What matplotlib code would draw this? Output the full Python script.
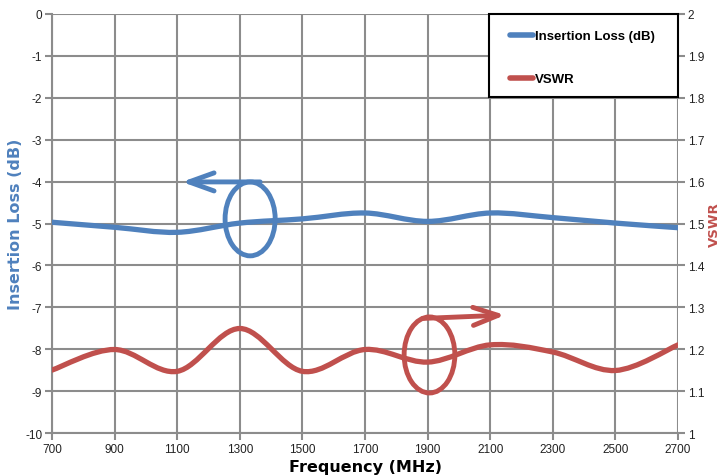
import matplotlib
matplotlib.use("Agg")
import matplotlib.pyplot as plt
from matplotlib.path import Path
from matplotlib.patches import PathPatch, Ellipse, Rectangle
from matplotlib.lines import Line2D

# Data
freq_mhz = [700, 900, 1100, 1300, 1500, 1700, 1900, 2100, 2300, 2500, 2700]
insertion_loss_db = [-4.97, -5.09, -5.21, -4.99, -4.89, -4.75, -4.95, -4.75, -4.86, -4.99, -5.10]
vswr = [1.151, 1.200, 1.148, 1.250, 1.148, 1.200, 1.170, 1.211, 1.194, 1.150, 1.211]

x_ticks = list(range(700, 2701, 200))
loss_ticks = list(range(-10, 1))
vswr_ticks = [1 + i / 10 for i in range(11)]

blue = "#4F81BD"
red = "#C0504D"
grid_grey = "#8C8C8C"

plt.rcParams["axes.unicode_minus"] = False
tick_font = "Liberation Sans"


# Excel style smoothed line: catmull-rom turned into bezier segments
def smooth_path(xs, ys):
  pts = list(zip(xs, ys))
  verts = [pts[0]]
  codes = [Path.MOVETO]
  n = len(pts)
  for i in range(n - 1):
    p0 = pts[i - 1] if i > 0 else pts[i]
    p1 = pts[i]
    p2 = pts[i + 1]
    p3 = pts[i + 2] if i + 2 < n else pts[i + 1]
    c1 = (p1[0] + (p2[0] - p0[0]) / 6, p1[1] + (p2[1] - p0[1]) / 6)
    c2 = (p2[0] - (p3[0] - p1[0]) / 6, p2[1] - (p3[1] - p1[1]) / 6)
    verts += [c1, c2, p2]
    codes += [Path.CURVE4] * 3
  return Path(verts, codes)


fig = plt.figure(figsize=(7.23, 4.77), dpi=100)
ax = fig.add_axes([0.0719, 0.0891, 0.8659, 0.8805])
ax2 = ax.twinx()

ax.set_xlim(700, 2700)
ax.set_ylim(-10, 0)
ax2.set_ylim(1, 2)
ax.set_xticks(x_ticks)
ax.set_yticks(loss_ticks)
ax2.set_yticks(vswr_ticks)
ax2.set_yticklabels([f"{v:g}" for v in vswr_ticks])

ax.grid(True, color=grid_grey, linewidth=1.5)
for a in (ax, ax2):
  for s in a.spines.values():
    s.set_visible(False)
  a.tick_params(length=5, width=1.5, color=grid_grey, labelsize=8.5, pad=2, labelcolor="#222222")
  for lab in a.get_xticklabels() + a.get_yticklabels():
    lab.set_fontfamily(tick_font)
ax.spines["left"].set_visible(True)
ax.spines["left"].set_color(grid_grey)
ax.spines["left"].set_linewidth(1.5)
ax.spines["bottom"].set_visible(True)
ax.spines["bottom"].set_color(grid_grey)
ax.spines["bottom"].set_linewidth(1.5)

ax.add_patch(PathPatch(smooth_path(freq_mhz, insertion_loss_db), fill=False,
                       edgecolor=blue, linewidth=3.8, capstyle="round", zorder=3))
ax2.add_patch(PathPatch(smooth_path(freq_mhz, vswr), fill=False,
                        edgecolor=red, linewidth=3.8, capstyle="round", zorder=3))

# the circled "which axis" markers
arrow_style = "->,head_length=1.8,head_width=0.65"
ax.add_patch(Ellipse((1333, -4.89), 160, 1.76, fill=False, edgecolor=blue, linewidth=3.5, zorder=4))
ax.annotate("", xy=(1115, -4.01), xytext=(1365, -4.01),
            arrowprops=dict(arrowstyle=arrow_style, color=blue, linewidth=3.5,
                            shrinkA=0, shrinkB=0, joinstyle="round", capstyle="round"), zorder=4)
ax.add_patch(Ellipse((1906, -8.13), 162, 1.81, fill=False, edgecolor=red, linewidth=3.5, zorder=4))
ax.annotate("", xy=(2148, -7.18), xytext=(1885, -7.26),
            arrowprops=dict(arrowstyle=arrow_style, color=red, linewidth=3.5,
                            shrinkA=0, shrinkB=0, joinstyle="round", capstyle="round"), zorder=4)

ax.set_xlabel("Frequency (MHz)", fontsize=11.5, fontweight="bold", family="DejaVu Sans", labelpad=3)
ax.set_ylabel("Insertion Loss (dB)", fontsize=11.5, fontweight="bold", color=blue,
              family="DejaVu Sans")
ax.yaxis.set_label_coords(-0.046, 0.5)
ax2.set_ylabel("VSWR", fontsize=9.5, fontweight="bold", color=red, family="DejaVu Sans")
ax2.yaxis.set_label_coords(1.048, 0.5)

# legend box, drawn separately so the side and top padding can differ
ax2.add_patch(Rectangle((0.698, 0.8012), 0.302, 0.1988, transform=ax2.transAxes,
                        facecolor="white", edgecolor="black", linewidth=1.5, zorder=9, clip_on=False))
handles = [Line2D([], [], color=blue, linewidth=4, solid_capstyle="round"),
           Line2D([], [], color=red, linewidth=4, solid_capstyle="round")]
leg = ax2.legend(handles, ["Insertion Loss (dB)", "VSWR"], loc="upper left",
                 bbox_to_anchor=(0.7316, 0.9607), bbox_transform=ax2.transAxes,
                 borderaxespad=0, borderpad=0, frameon=False,
                 handlelength=1.75, handletextpad=0.15, labelspacing=2.35,
                 prop={"family": "Liberation Sans", "weight": "bold", "size": 9.5})
leg.set_zorder(10)

fig.savefig("out.png", dpi=100)
